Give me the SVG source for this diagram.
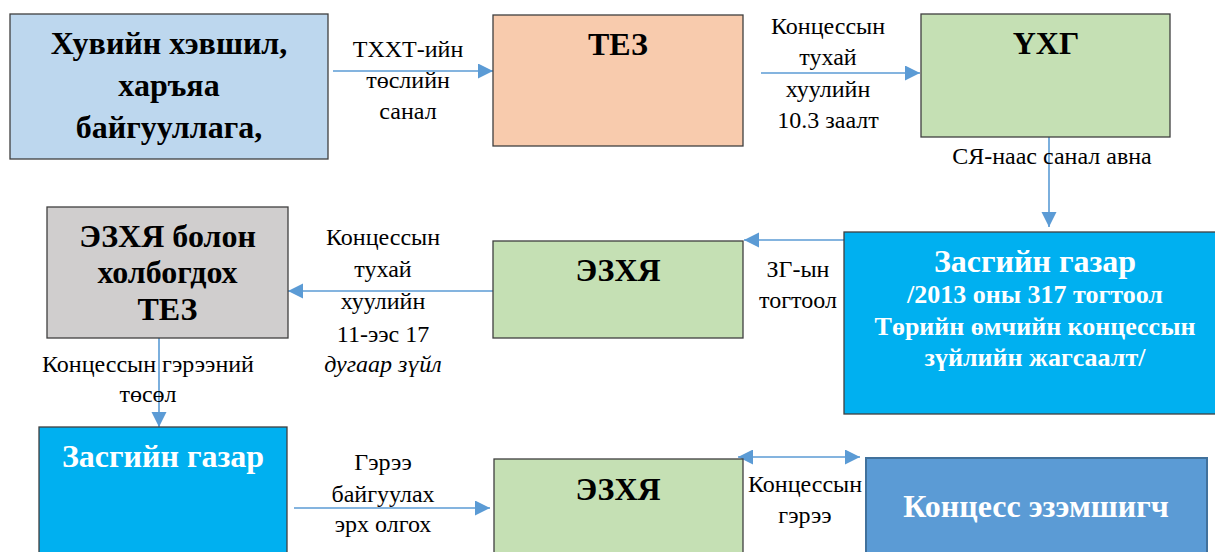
<svg xmlns="http://www.w3.org/2000/svg" width="1215" height="552" viewBox="0 0 1215 552">
<style>
.box{stroke:#3f3f3f;stroke-width:1.3}
.t{font-family:'Liberation Serif','Times New Roman',Tinos,'DejaVu Serif',serif;font-weight:bold;text-anchor:middle;fill:#000}
.w{fill:#fff}
.l{font-family:'Liberation Serif','Times New Roman',Tinos,'DejaVu Serif',serif;font-size:24px;text-anchor:middle;fill:#000}
.c{stroke:#5b9bd5;stroke-width:1.6;fill:none}
</style>
<defs>
<marker id="ah" markerUnits="userSpaceOnUse" markerWidth="16" markerHeight="16" refX="15" refY="7.5" orient="auto">
<path d="M0,0 L15,7.5 L0,15 Z" fill="#5b9bd5"/>
</marker>
<marker id="as" markerUnits="userSpaceOnUse" markerWidth="16" markerHeight="16" refX="0" refY="7.5" orient="auto">
<path d="M15,0 L0,7.5 L15,15 Z" fill="#5b9bd5"/>
</marker>
</defs>
<rect width="1215" height="552" fill="#fff"/>
<g id="connectors">
<line class="c" x1="333" y1="71" x2="493" y2="71" marker-end="url(#ah)"/>
<line class="c" x1="761" y1="73" x2="920" y2="73" marker-end="url(#ah)"/>
<line class="c" x1="1049" y1="137" x2="1049" y2="227" marker-end="url(#ah)"/>
<line class="c" x1="844" y1="240" x2="744" y2="240" marker-end="url(#ah)"/>
<line class="c" x1="493" y1="291" x2="288" y2="291" marker-end="url(#ah)"/>
<line class="c" x1="159" y1="338" x2="159" y2="427" marker-end="url(#ah)"/>
<line class="c" x1="294" y1="508" x2="490" y2="508" marker-end="url(#ah)"/>
<line class="c" x1="738" y1="457" x2="860" y2="457" marker-start="url(#as)" marker-end="url(#ah)"/>
<text class="l"><tspan x="408" y="57">ТХХТ-ийн</tspan><tspan x="408" y="88">төслийн</tspan><tspan x="408" y="119">санал</tspan></text>
<text class="l"><tspan x="828" y="34">Концессын</tspan><tspan x="828" y="65">тухай</tspan><tspan x="828" y="97">хуулийн</tspan><tspan x="828" y="128">10.3 заалт</tspan></text>
<text class="l" x="1052" y="164">СЯ-наас санал авна</text>
<text class="l"><tspan x="798" y="277">ЗГ-ын</tspan><tspan x="798" y="308">тогтоол</tspan></text>
<text class="l"><tspan x="383" y="245">Концессын</tspan><tspan x="383" y="277">тухай</tspan><tspan x="383" y="309">хуулийн</tspan><tspan x="383" y="342">11-ээс 17</tspan><tspan x="383" y="372" font-style="italic">дугаар зүйл</tspan></text>
<text class="l"><tspan x="148" y="372">Концессын гэрээний</tspan><tspan x="148" y="402">төсөл</tspan></text>
<text class="l"><tspan x="383" y="470">Гэрээ</tspan><tspan x="383" y="502">байгуулах</tspan><tspan x="383" y="532">эрх олгох</tspan></text>
<text class="l"><tspan x="805" y="492">Концессын</tspan><tspan x="805" y="523">гэрээ</tspan></text>
</g>
<g id="n1">
<rect class="box" x="10" y="14" width="318" height="145" fill="#bdd7ee"/>
<text class="t" font-size="32"><tspan x="169" y="54">Хувийн хэвшил,</tspan><tspan x="169" y="96">харъяа</tspan><tspan x="169" y="138">байгууллага,</tspan></text>
</g>
<g id="n2">
<rect class="box" x="493" y="15" width="250" height="131" fill="#f8cbad"/>
<text class="t" font-size="32" x="618" y="55">ТЕЗ</text>
</g>
<g id="n3">
<rect class="box" x="921" y="14" width="249" height="123" fill="#c5e0b4"/>
<text class="t" font-size="32" x="1046" y="54">ҮХГ</text>
</g>
<g id="n4">
<rect class="box" x="844" y="232" width="385" height="182" fill="#00b0f0"/>
<text class="t w" font-size="32" x="1035" y="272">Засгийн газар</text>
<text class="t w" font-size="26"><tspan x="1035" y="303">/2013 оны 317 тогтоол</tspan><tspan x="1035" y="335">Төрийн өмчийн концессын</tspan><tspan x="1035" y="366">зүйлийн жагсаалт/</tspan></text>
</g>
<g id="n5">
<rect class="box" x="493" y="241" width="250" height="97" fill="#c5e0b4"/>
<text class="t" font-size="32" x="618" y="281">ЭЗХЯ</text>
</g>
<g id="n6">
<rect class="box" x="47" y="207" width="241" height="131" fill="#d0cece"/>
<text class="t" font-size="32"><tspan x="167.5" y="247">ЭЗХЯ болон</tspan><tspan x="167.5" y="283">холбогдох</tspan><tspan x="167.5" y="320">ТЕЗ</tspan></text>
</g>
<g id="n7">
<rect class="box" x="39" y="427" width="248" height="140" fill="#00b0f0"/>
<text class="t w" font-size="32" x="163" y="467">Засгийн газар</text>
</g>
<g id="n8">
<rect class="box" x="494" y="459" width="249" height="110" fill="#c5e0b4"/>
<text class="t" font-size="32" x="618" y="500">ЭЗХЯ</text>
</g>
<g id="n9">
<rect x="866" y="458" width="341" height="110" fill="#5b9bd5" stroke="#41719c" stroke-width="2"/>
<text class="t w" font-size="32" x="1036" y="517">Концесс эзэмшигч</text>
</g>
</svg>
